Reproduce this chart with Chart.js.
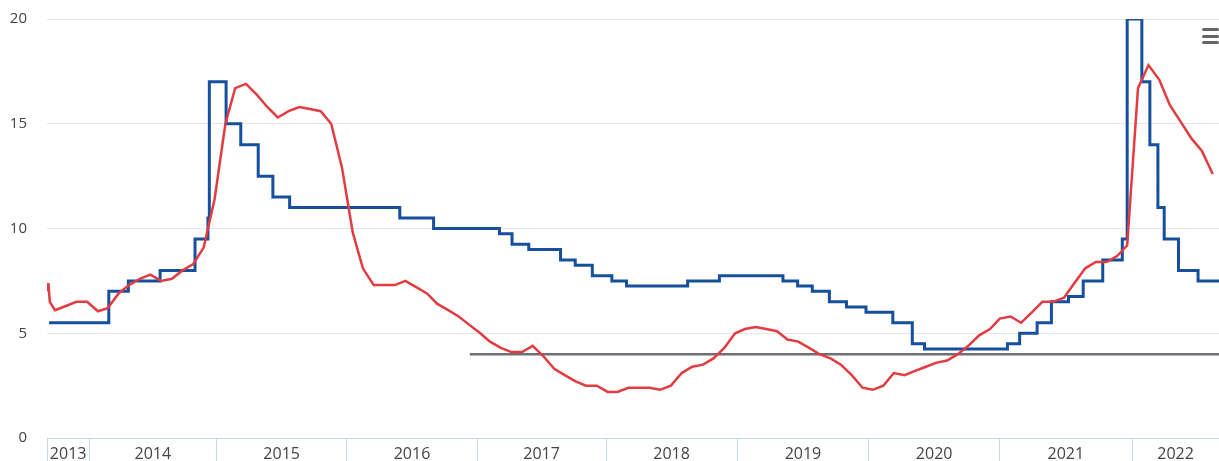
<!DOCTYPE html>
<html>
<head>
<meta charset="utf-8">
<script src="https://cdn.jsdelivr.net/npm/chart.js@4.4.1/dist/chart.umd.min.js"></script>
<style>
    html, body { margin: 0; padding: 0; background: #fff; }
    #wrap { position: relative; width: 1219px; height: 461px; }
    .menu-bar { position: absolute; left: 1202px; width: 17px; height: 3px; background: #666; border-radius: 2px; }
</style>
</head>
<body>
<div id="wrap">
    <canvas id="rate-chart"></canvas>
    <div class="menu-bar" style="top:28px"></div>
    <div class="menu-bar" style="top:35px"></div>
    <div class="menu-bar" style="top:41px"></div>
</div>
<script>
// key rate decisions (value holds until next date)
const keyRateDates = ['2013-09-13', '2014-03-03', '2014-04-28', '2014-07-28', '2014-11-05', '2014-12-12',
    '2014-12-16', '2015-02-02', '2015-03-16', '2015-05-05', '2015-06-16', '2015-08-03', '2016-06-14',
    '2016-09-19', '2017-03-27', '2017-05-02', '2017-06-19', '2017-09-18', '2017-10-30', '2017-12-18',
    '2018-02-12', '2018-03-26', '2018-09-17', '2018-12-17', '2019-06-17', '2019-07-29', '2019-09-09',
    '2019-10-28', '2019-12-16', '2020-02-10', '2020-04-27', '2020-06-22', '2020-07-27', '2021-03-22',
    '2021-04-26', '2021-06-15', '2021-07-26', '2021-09-13', '2021-10-25', '2021-12-20', '2022-02-14',
    '2022-02-28', '2022-04-11', '2022-05-04', '2022-05-27', '2022-06-14', '2022-07-25', '2022-09-19',
    '2022-11-18'];
const keyRate = [5.5, 7, 7.5, 8, 9.5, 10.5, 17, 15, 14, 12.5, 11.5, 11, 10.5, 10, 9.75, 9.25, 9, 8.5, 8.25,
    7.75, 7.5, 7.25, 7.5, 7.75, 7.5, 7.25, 7, 6.5, 6.25, 6, 5.5, 4.5, 4.25, 4.5, 5, 5.5, 6.5, 6.75, 7.5, 8.5,
    9.5, 20, 17, 14, 11, 9.5, 8, 7.5, 7.5];

// inflation: a few odd points at the very start, then month-end values from Sep 2013
const inflationHeadDates = ['2013-09-08', '2013-09-11', '2013-09-15'];
const inflationHead = [7.0, 7.4, 6.5];
const inflationFirstMonth = '2013-09';
const inflation = [
    6.1, 6.3, 6.5, 6.5,
    6.05, 6.2, 6.9, 7.3, 7.6, 7.8, 7.5, 7.6, 8.0, 8.3, 9.1, 11.4,
    15.0, 16.7, 16.9, 16.4, 15.8, 15.3, 15.6, 15.8, 15.7, 15.6, 15.0, 12.9,
    9.8, 8.1, 7.3, 7.3, 7.3, 7.5, 7.2, 6.9, 6.4, 6.1, 5.8, 5.4,
    5.0, 4.6, 4.3, 4.1, 4.1, 4.4, 3.9, 3.3, 3.0, 2.7, 2.5, 2.5,
    2.2, 2.2, 2.4, 2.4, 2.4, 2.3, 2.5, 3.1, 3.4, 3.5, 3.8, 4.3,
    5.0, 5.2, 5.3, 5.2, 5.1, 4.7, 4.6, 4.3, 4.0, 3.8, 3.5, 3.0,
    2.4, 2.3, 2.5, 3.1, 3.0, 3.2, 3.4, 3.6, 3.7, 4.0, 4.4, 4.9,
    5.2, 5.7, 5.8, 5.5, 6.0, 6.5, 6.5, 6.7, 7.4, 8.1, 8.4, 8.4,
    8.7, 9.2, 16.7, 17.8, 17.1, 15.9, 15.1, 14.3, 13.7, 12.6
];

// inflation target
const targetDates = ['2017-01-01', '2022-11-18'];
const target = [4, 4];

// axes
const xMinDate = '2013-09-07';
const xMaxDate = '2022-11-18';
const yearLabels = ['2013', '2014', '2015', '2016', '2017', '2018', '2019', '2020', '2021', '2022'];
const yearEdges = [2014.014, 2015.011, 2016.036, 2017.057, 2018.069, 2019.098, 2020.131, 2021.157, 2022.198];
const yTicks = [0, 5, 10, 15, 20];

function toYear(y, m, d) {
    const start = Date.UTC(y, 0, 1);
    return y + (Date.UTC(y, m - 1, d) - start) / (Date.UTC(y + 1, 0, 1) - start);
}
function dateToYear(s) {
    const p = s.split('-').map(Number);
    return toYear(p[0], p[1], p[2]);
}
function monthEnd(first, i) {
    const p = first.split('-').map(Number);
    const m0 = p[1] - 1 + i;
    const y = p[0] + Math.floor(m0 / 12);
    const m = (m0 % 12) + 1;
    const last = new Date(Date.UTC(y, m, 0)).getUTCDate();
    return toYear(y, m, last);
}

const xMin = dateToYear(xMinDate);
const xMax = dateToYear(xMaxDate);

const inflationPoints = inflationHeadDates.map((d, i) => ({ x: dateToYear(d), y: inflationHead[i] }))
    .concat(inflation.map((v, i) => ({ x: monthEnd(inflationFirstMonth, i), y: v })));
const keyRatePoints = keyRateDates.map((d, i) => ({ x: dateToYear(d), y: keyRate[i] }));
const targetPoints = targetDates.map((d, i) => ({ x: dateToYear(d), y: target[i] }));

// x ticks: edges carry the tick marks, centres carry the year labels
const bounds = [xMin].concat(yearEdges, [xMax]);
const xTicks = [{ value: xMin, lab: '' }];
yearLabels.forEach(function (lab, i) {
    xTicks.push({ value: (bounds[i] + bounds[i + 1]) / 2, lab: lab });
    if (i < yearEdges.length) xTicks.push({ value: yearEdges[i], lab: '' });
});

const ctx = document.getElementById('rate-chart');

new Chart(ctx, {
    type: 'line',
    data: {
        datasets: [
            {
                label: 'Inflation',
                data: inflationPoints,
                borderColor: '#e23b40',
                borderWidth: 2.5,
                pointRadius: 0,
                tension: 0
            },
            {
                label: 'Key rate',
                data: keyRatePoints,
                borderColor: '#164f9e',
                borderWidth: 3,
                pointRadius: 0,
                stepped: 'before'
            },
            {
                label: 'Target',
                data: targetPoints,
                borderColor: '#6e7075',
                borderWidth: 2.5,
                pointRadius: 0
            }
        ]
    },
    options: {
        responsive: true,
        maintainAspectRatio: false,
        animation: false,
        layout: { padding: { top: 19, right: 0, bottom: 0, left: 0 } },
        plugins: {
            legend: { display: false },
            tooltip: { enabled: false }
        },
        scales: {
            x: {
                type: 'linear',
                min: xMin,
                max: xMax,
                afterBuildTicks: function (scale) {
                    scale.ticks = xTicks.map(t => ({ value: t.value, lab: t.lab }));
                },
                afterFit: function (scale) {
                    scale.height = 23;
                    scale.paddingLeft = 0;
                    scale.paddingRight = 0;
                },
                border: { color: '#ccd6eb', width: 1 },
                grid: {
                    drawOnChartArea: false,
                    drawTicks: true,
                    tickLength: 23,
                    color: c => (c.tick && c.tick.lab) ? 'rgba(0,0,0,0)' : '#ccd6eb'
                },
                ticks: {
                    autoSkip: false,
                    maxRotation: 0,
                    padding: -16,
                    color: '#444',
                    font: { family: 'Open Sans', size: 16 },
                    callback: function (value, index, ticks) { return ticks[index].lab; }
                }
            },
            y: {
                min: 0,
                max: 20,
                afterBuildTicks: function (scale) {
                    scale.ticks = yTicks.map(v => ({ value: v }));
                },
                afterFit: function (scale) {
                    scale.width = 47;
                    scale.paddingTop = 0;
                    scale.paddingBottom = 0;
                },
                border: { display: false },
                grid: {
                    drawTicks: false,
                    color: c => c.tick && c.tick.value === 0 ? 'rgba(0,0,0,0)' : '#e6e6e6'
                },
                ticks: {
                    padding: 20,
                    color: '#444',
                    font: { family: 'Open Sans', size: 15 }
                }
            }
        }
    }
});
</script>
</body>
</html>
